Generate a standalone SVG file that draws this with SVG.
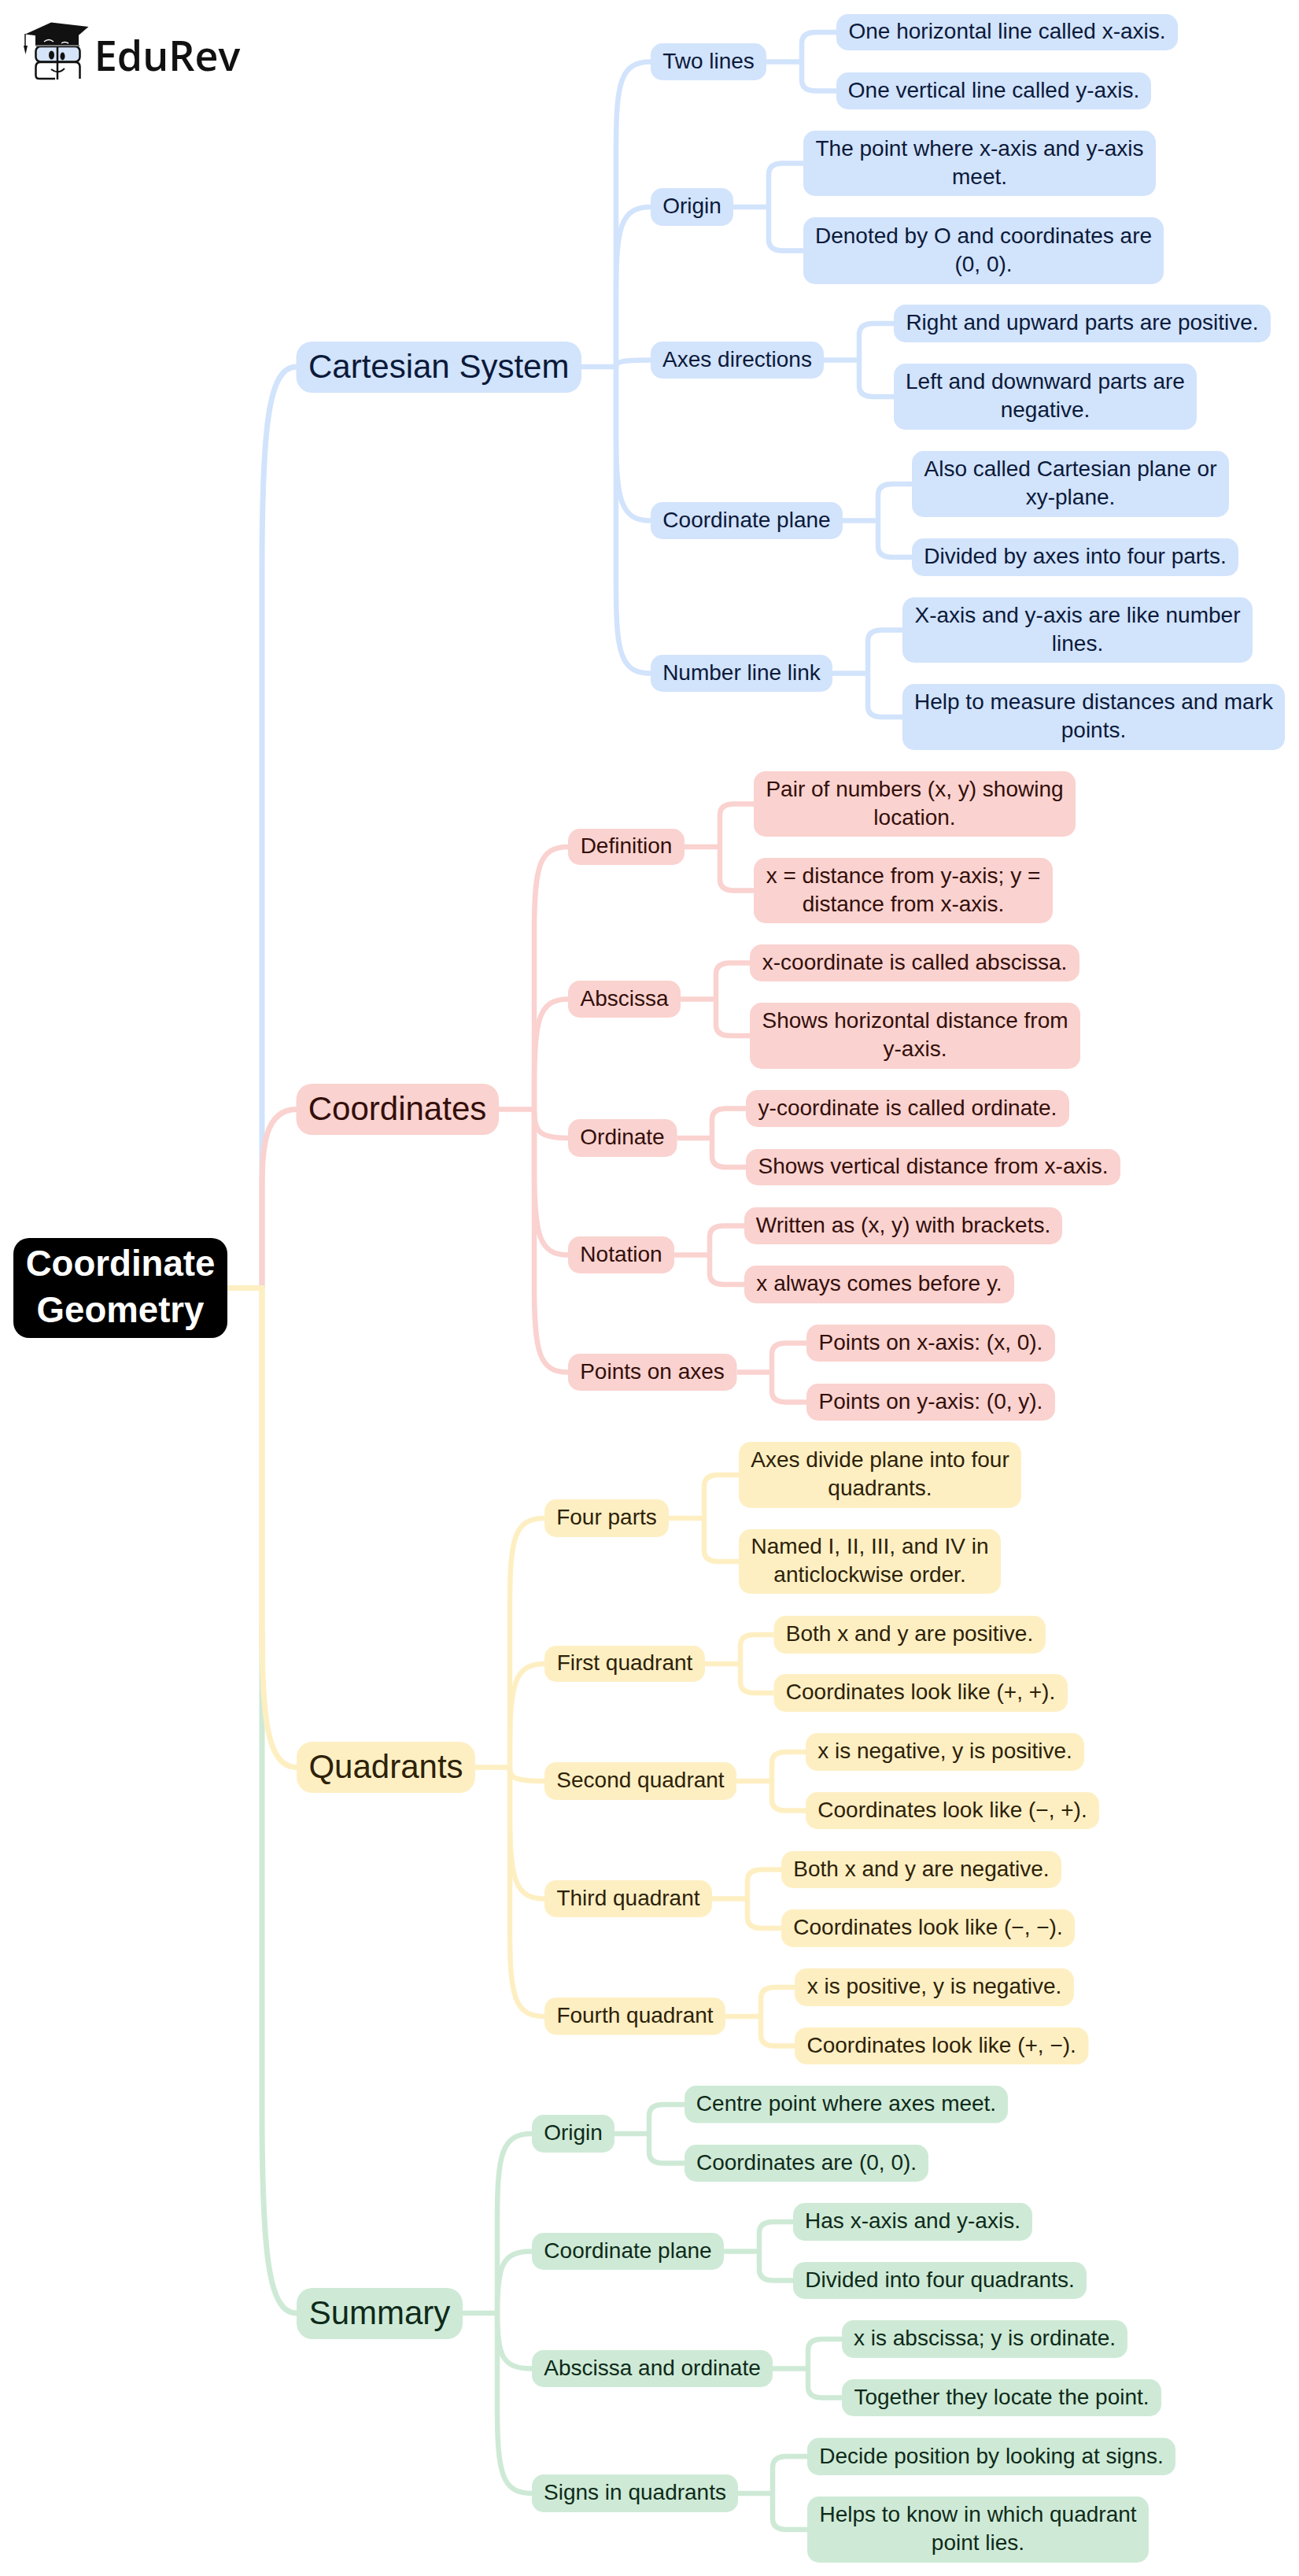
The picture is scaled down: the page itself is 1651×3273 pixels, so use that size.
<svg xmlns="http://www.w3.org/2000/svg" width="1651" height="3273" viewBox="0 0 1651 3273">
<style>
text{font-family:"Liberation Sans",Arial,sans-serif;text-anchor:middle;font-size:28px;transform:translateY(-1.2px)}
.c{fill:none;stroke-linecap:butt;stroke-width:6.5}
.t{stroke-width:7}
.cb{stroke:#D2E3FC}.cp{stroke:#FAD2CF}.cy{stroke:#FEEFC3}.cg{stroke:#CEEAD6}
.b rect{fill:#D2E3FC}.b text{fill:#0B1A3A}
.p rect{fill:#FAD2CF}.p text{fill:#330F0B}
.y rect{fill:#FEEFC3}.y text{fill:#2D2208}
.g rect{fill:#CEEAD6}.g text{fill:#0F2A1A}
.l1 text{font-size:42px;transform:translateY(-0.5px)}
#root rect{fill:#000}#root text{fill:#fff;font-weight:700;font-size:45.6px;transform:none}
</style>
<rect width="1651" height="3273" fill="#fff"/>
<g id="logo">
<path d="M45 43H100V58H45Z" fill="#111"/>
<rect x="45.500" y="59" width="56" height="19.500" rx="6" fill="#D5E4F9" stroke="#111" stroke-width="2.500"/>
<path d="M51.500 79H95.500Q101.500 79 101.500 85V100M45.500 85Q45.500 79 51.500 79M45.500 85V96Q45.500 100 50 100H70" fill="none" stroke="#111" stroke-width="2.500"/>
<path d="M73 57V101" stroke="#111" stroke-width="2.500" fill="none"/>
<path d="M45 58H101" stroke="#777" stroke-width="2" fill="none"/>
<path d="M32 43.500L65 28.500L112.500 34L88 55L60 47Z" fill="#111"/>
<path d="M32 43V60" stroke="#111" stroke-width="1.500" fill="none"/>
<path d="M30 58H35L32.500 69Z" fill="#111"/>
<ellipse cx="65.500" cy="70" rx="3.500" ry="5.500" fill="#111"/>
<ellipse cx="79.500" cy="71.500" rx="3" ry="5" fill="#111"/>
<path d="M65 88Q74 95 82 87" stroke="#111" stroke-width="2" fill="none"/>
<path d="M56 53Q62 48 68 53M78 55Q82 52 87 55" stroke="#fff" stroke-width="1.500" fill="none"/>
<text x="212.500" y="91.200" style="font-family:'Open Sans',sans-serif;font-weight:600;font-size:52px" fill="#111">EduRev</text>
</g>
<g id="connectors">
<g class="c t cb">
<path d="M333 1636.500V726C333 536 342 466 377 466"/>
</g>
<g class="c t cg">
<path d="M333 1636.500V2679C333 2869 342 2939 377 2939"/>
</g>
<g class="c t cp">
<path d="M333 1636.500V1509.500C333 1459.500 336 1409.500 377 1409.500"/>
</g>
<g class="c t cy">
<path d="M289 1636.500H333V2065.500C333 2185.500 340 2245.500 377 2245.500"/>
</g>
<g class="c cb">
<path d="M739 466H783"/>
<path d="M783 466V188.500C783 104 789 78.500 827 78.500"/>
<path d="M783 466V373C783 288 789 263 827 263"/>
<path d="M783 466C783 459.500 789 457.500 827 457.500"/>
<path d="M783 466V551.500C783 636 789 661.500 827 661.500"/>
<path d="M783 466V745.500C783 830 789 855.500 827 855.500"/>
<path d="M974 78.500H1019M1063 41H1037Q1019 41 1019 55V101.500Q1019 115.500 1037 115.500H1063"/>
<path d="M932 263H977M1021 207.500H995Q977 207.500 977 221.500V304.500Q977 318.500 995 318.500H1021"/>
<path d="M1047 457.500H1092M1136 411H1110Q1092 411 1092 425V490Q1092 504 1110 504H1136"/>
<path d="M1071 661.500H1116M1159 615H1134Q1116 615 1116 629V694Q1116 708 1134 708H1159"/>
<path d="M1058 855.500H1103M1147 800.500H1121Q1103 800.500 1103 814.500V897Q1103 911 1121 911H1147"/>
</g>
<g class="c cp">
<path d="M634 1409.500H679"/>
<path d="M679 1409.500V1186C679 1101 685 1076 722 1076"/>
<path d="M679 1409.500V1379.500C679 1295 685 1269.500 722 1269.500"/>
<path d="M679 1409.500C679 1438 685 1446 722 1446"/>
<path d="M679 1409.500V1484.500C679 1569 685 1594.500 722 1594.500"/>
<path d="M679 1409.500V1633.500C679 1718 685 1743.500 722 1743.500"/>
<path d="M870 1076H915M958 1021.500H933Q915 1021.500 915 1035.500V1117.500Q915 1131.500 933 1131.500H958"/>
<path d="M865 1269.500H910M953 1223.500H928Q910 1223.500 910 1237.500V1302Q910 1316 928 1316H953"/>
<path d="M860.500 1446H905M948 1408.500H923Q905 1408.500 905 1422.500V1469Q905 1483 923 1483H948"/>
<path d="M857 1594.500H902M946 1557.500H920Q902 1557.500 902 1571.500V1618Q902 1632 920 1632H946"/>
<path d="M936.500 1743.500H981M1025 1706.500H999Q981 1706.500 981 1720.500V1767.500Q981 1781.500 999 1781.500H1025"/>
</g>
<g class="c cy">
<path d="M604 2245.500H648"/>
<path d="M648 2245.500V2039C648 1954 654 1929 692 1929"/>
<path d="M648 2245.500V2224C648 2139 654 2114 692 2114"/>
<path d="M648 2245.500C648 2259 654 2263 692 2263"/>
<path d="M648 2245.500V2302.500C648 2387 654 2412.500 692 2412.500"/>
<path d="M648 2245.500V2452C648 2537 654 2562 692 2562"/>
<path d="M850 1929H895M939 1874H913Q895 1874 895 1888V1970Q895 1984 913 1984H939"/>
<path d="M896 2114H941M983.500 2077H959Q941 2077 941 2091V2137Q941 2151 959 2151H983.500"/>
<path d="M936 2263H981M1024 2226H999Q981 2226 981 2240V2286.500Q981 2300.500 999 2300.500H1024"/>
<path d="M905 2412.500H950M993 2375.500H968Q950 2375.500 950 2389.500V2436Q950 2450 968 2450H993"/>
<path d="M922 2562H967M1010 2525H985Q967 2525 967 2539V2585.500Q967 2599.500 985 2599.500H1010"/>
</g>
<g class="c cg">
<path d="M588 2939H632"/>
<path d="M632 2939V2821C632 2736 638 2711 676 2711"/>
<path d="M632 2939C632 2878.500 638 2860.500 676 2860.500"/>
<path d="M632 2939C632 2993 638 3009.500 676 3009.500"/>
<path d="M632 2939V3058C632 3143 638 3168 676 3168"/>
<path d="M781 2711H825M870 2674H843Q825 2674 825 2688V2734.500Q825 2748.500 843 2748.500H870"/>
<path d="M920 2860.500H965M1008 2823H983Q965 2823 965 2837V2883.500Q965 2897.500 983 2897.500H1008"/>
<path d="M982 3009.500H1027M1070 2972H1045Q1027 2972 1027 2986V3032.500Q1027 3046.500 1045 3046.500H1070"/>
<path d="M938 3168H982M1026 3121H1000Q982 3121 982 3135V3200Q982 3214 1000 3214H1026"/>
</g>
</g>
<g id="root"><rect x="17" y="1573" width="272" height="127" rx="20"/><text x="153" y="1621">Coordinate</text><text x="153" y="1680">Geometry</text></g>
<g id="n-cartesian" class="b l1"><rect x="376.500" y="434" width="362.500" height="65" rx="20"/><text x="557.700" y="480">Cartesian System</text></g>
<g id="n-two-lines" class="b"><rect x="827" y="55" width="147" height="47" rx="15"/><text x="900.500" y="88">Two lines</text></g>
<g id="n-h-line" class="b"><rect x="1063" y="18" width="434" height="46" rx="15"/><text x="1280" y="50.500">One horizontal line called x-axis.</text></g>
<g id="n-v-line" class="b"><rect x="1063" y="92" width="400" height="47" rx="15"/><text x="1263" y="125">One vertical line called y-axis.</text></g>
<g id="n-origin" class="b"><rect x="827" y="239" width="105" height="48" rx="15"/><text x="879.500" y="272.500">Origin</text></g>
<g id="n-point" class="b"><rect x="1021" y="166" width="448" height="83" rx="15"/><text x="1245" y="199">The point where x-axis and y-axis</text><text x="1245" y="235">meet.</text></g>
<g id="n-denoted" class="b"><rect x="1021" y="276" width="458" height="85" rx="15"/><text x="1250" y="310">Denoted by O and coordinates are</text><text x="1250" y="346">(0, 0).</text></g>
<g id="n-axes" class="b"><rect x="827" y="434" width="220" height="47" rx="15"/><text x="937" y="467">Axes directions</text></g>
<g id="n-right" class="b"><rect x="1136" y="387" width="479" height="48" rx="15"/><text x="1375.500" y="420.500">Right and upward parts are positive.</text></g>
<g id="n-left" class="b"><rect x="1136" y="462" width="385" height="84" rx="15"/><text x="1328.500" y="495.500">Left and downward parts are</text><text x="1328.500" y="531.500">negative.</text></g>
<g id="n-plane" class="b"><rect x="827" y="638" width="244" height="47" rx="15"/><text x="949" y="671">Coordinate plane</text></g>
<g id="n-also" class="b"><rect x="1159" y="573" width="403" height="84" rx="15"/><text x="1360.500" y="606.500">Also called Cartesian plane or</text><text x="1360.500" y="642.500">xy-plane.</text></g>
<g id="n-divided" class="b"><rect x="1159" y="684" width="415" height="48" rx="15"/><text x="1366.500" y="717.500">Divided by axes into four parts.</text></g>
<g id="n-number" class="b"><rect x="827" y="832" width="231" height="47" rx="15"/><text x="942.500" y="865">Number line link</text></g>
<g id="n-xaxis" class="b"><rect x="1147" y="759" width="445" height="83" rx="15"/><text x="1369.500" y="792">X-axis and y-axis are like number</text><text x="1369.500" y="828">lines.</text></g>
<g id="n-help" class="b"><rect x="1147" y="869" width="486" height="84" rx="15"/><text x="1390" y="902.500">Help to measure distances and mark</text><text x="1390" y="938.500">points.</text></g>
<g id="n-coordinates" class="p l1"><rect x="376.500" y="1377" width="257.500" height="65" rx="20"/><text x="505" y="1423">Coordinates</text></g>
<g id="n-definition" class="p"><rect x="722" y="1053" width="148" height="46" rx="15"/><text x="796" y="1085.500">Definition</text></g>
<g id="n-pair" class="p"><rect x="958" y="980" width="409" height="83" rx="15"/><text x="1162.500" y="1013">Pair of numbers (x, y) showing</text><text x="1162.500" y="1049">location.</text></g>
<g id="n-xeq" class="p"><rect x="958" y="1090" width="380" height="83" rx="15"/><text x="1148" y="1123">x = distance from y-axis; y =</text><text x="1148" y="1159">distance from x-axis.</text></g>
<g id="n-abscissa" class="p"><rect x="722" y="1246" width="143" height="47" rx="15"/><text x="793.500" y="1279">Abscissa</text></g>
<g id="n-xcoord" class="p"><rect x="953" y="1200" width="419" height="47" rx="15"/><text x="1162.500" y="1233">x-coordinate is called abscissa.</text></g>
<g id="n-showsh" class="p"><rect x="953" y="1274" width="420" height="84" rx="15"/><text x="1163" y="1307.500">Shows horizontal distance from</text><text x="1163" y="1343.500">y-axis.</text></g>
<g id="n-ordinate" class="p"><rect x="722" y="1422" width="138.500" height="48" rx="15"/><text x="791" y="1455.500">Ordinate</text></g>
<g id="n-ycoord" class="p"><rect x="948" y="1385" width="411" height="47" rx="15"/><text x="1153.500" y="1418">y-coordinate is called ordinate.</text></g>
<g id="n-showsv" class="p"><rect x="948" y="1460" width="476" height="46" rx="15"/><text x="1186" y="1492.500">Shows vertical distance from x-axis.</text></g>
<g id="n-notation" class="p"><rect x="722" y="1571" width="135" height="47" rx="15"/><text x="789.500" y="1604">Notation</text></g>
<g id="n-written" class="p"><rect x="946" y="1534" width="404" height="47" rx="15"/><text x="1148" y="1567">Written as (x, y) with brackets.</text></g>
<g id="n-always" class="p"><rect x="946" y="1608" width="343" height="48" rx="15"/><text x="1117.500" y="1641.500">x always comes before y.</text></g>
<g id="n-points" class="p"><rect x="722" y="1720" width="214.500" height="47" rx="15"/><text x="829" y="1753">Points on axes</text></g>
<g id="n-px" class="p"><rect x="1025" y="1683" width="316" height="47" rx="15"/><text x="1183" y="1716">Points on x-axis: (x, 0).</text></g>
<g id="n-py" class="p"><rect x="1025" y="1758" width="316" height="47" rx="15"/><text x="1183" y="1791">Points on y-axis: (0, y).</text></g>
<g id="n-quadrants" class="y l1"><rect x="377" y="2213" width="227" height="65" rx="20"/><text x="490.500" y="2259">Quadrants</text></g>
<g id="n-four" class="y"><rect x="692" y="1905" width="158" height="48" rx="15"/><text x="771" y="1938.500">Four parts</text></g>
<g id="n-divide" class="y"><rect x="939" y="1832" width="359" height="84" rx="15"/><text x="1118.500" y="1865.500">Axes divide plane into four</text><text x="1118.500" y="1901.500">quadrants.</text></g>
<g id="n-named" class="y"><rect x="939" y="1943" width="333" height="82" rx="15"/><text x="1105.500" y="1975.500">Named I, II, III, and IV in</text><text x="1105.500" y="2011.500">anticlockwise order.</text></g>
<g id="n-first" class="y"><rect x="692" y="2091" width="204" height="46" rx="15"/><text x="794" y="2123.500">First quadrant</text></g>
<g id="n-bothp" class="y"><rect x="983.500" y="2053" width="345.500" height="48" rx="15"/><text x="1156" y="2086.500">Both x and y are positive.</text></g>
<g id="n-pp" class="y"><rect x="983.500" y="2127" width="373.500" height="48" rx="15"/><text x="1170" y="2160.500">Coordinates look like (+, +).</text></g>
<g id="n-second" class="y"><rect x="692" y="2239" width="244" height="48" rx="15"/><text x="814" y="2272.500">Second quadrant</text></g>
<g id="n-xneg" class="y"><rect x="1024" y="2202" width="354" height="48" rx="15"/><text x="1201" y="2235.500">x is negative, y is positive.</text></g>
<g id="n-mp" class="y"><rect x="1024" y="2277" width="373" height="47" rx="15"/><text x="1210.500" y="2310">Coordinates look like (−, +).</text></g>
<g id="n-third" class="y"><rect x="692" y="2389" width="213" height="47" rx="15"/><text x="798.500" y="2422">Third quadrant</text></g>
<g id="n-bothn" class="y"><rect x="993" y="2352" width="356" height="47" rx="15"/><text x="1171" y="2385">Both x and y are negative.</text></g>
<g id="n-mm" class="y"><rect x="993" y="2426" width="373" height="48" rx="15"/><text x="1179.500" y="2459.500">Coordinates look like (−, −).</text></g>
<g id="n-fourth" class="y"><rect x="692" y="2538" width="230" height="47.500" rx="15"/><text x="807" y="2571.500">Fourth quadrant</text></g>
<g id="n-xpos" class="y"><rect x="1010" y="2501" width="355" height="48" rx="15"/><text x="1187.500" y="2534.500">x is positive, y is negative.</text></g>
<g id="n-pm" class="y"><rect x="1010" y="2576" width="373.500" height="47" rx="15"/><text x="1196.700" y="2609">Coordinates look like (+, −).</text></g>
<g id="n-summary" class="g l1"><rect x="377" y="2907" width="211" height="65" rx="20"/><text x="482.500" y="2953">Summary</text></g>
<g id="n-sorigin" class="g"><rect x="676" y="2687" width="105" height="48" rx="15"/><text x="728.500" y="2720.500">Origin</text></g>
<g id="n-centre" class="g"><rect x="870" y="2650" width="411" height="47.500" rx="15"/><text x="1075.500" y="2683.500">Centre point where axes meet.</text></g>
<g id="n-are" class="g"><rect x="870" y="2725" width="310" height="47" rx="15"/><text x="1025" y="2758">Coordinates are (0, 0).</text></g>
<g id="n-splane" class="g"><rect x="676" y="2837" width="244" height="47" rx="15"/><text x="798" y="2870">Coordinate plane</text></g>
<g id="n-has" class="g"><rect x="1008" y="2799" width="304" height="48" rx="15"/><text x="1160" y="2832.500">Has x-axis and y-axis.</text></g>
<g id="n-into" class="g"><rect x="1008" y="2874" width="373" height="47" rx="15"/><text x="1194.500" y="2907">Divided into four quadrants.</text></g>
<g id="n-absord" class="g"><rect x="676" y="2986" width="306" height="47" rx="15"/><text x="829" y="3019">Abscissa and ordinate</text></g>
<g id="n-xabs" class="g"><rect x="1070" y="2948" width="363" height="48" rx="15"/><text x="1251.500" y="2981.500">x is abscissa; y is ordinate.</text></g>
<g id="n-together" class="g"><rect x="1070" y="3023" width="406" height="47" rx="15"/><text x="1273" y="3056">Together they locate the point.</text></g>
<g id="n-signs" class="g"><rect x="676" y="3144" width="262" height="48" rx="15"/><text x="807" y="3177.500">Signs in quadrants</text></g>
<g id="n-decide" class="g"><rect x="1026" y="3097.500" width="468" height="47.500" rx="15"/><text x="1260" y="3131">Decide position by looking at signs.</text></g>
<g id="n-helps" class="g"><rect x="1026" y="3172" width="434" height="84" rx="15"/><text x="1243" y="3205.500">Helps to know in which quadrant</text><text x="1243" y="3241.500">point lies.</text></g>
</svg>
